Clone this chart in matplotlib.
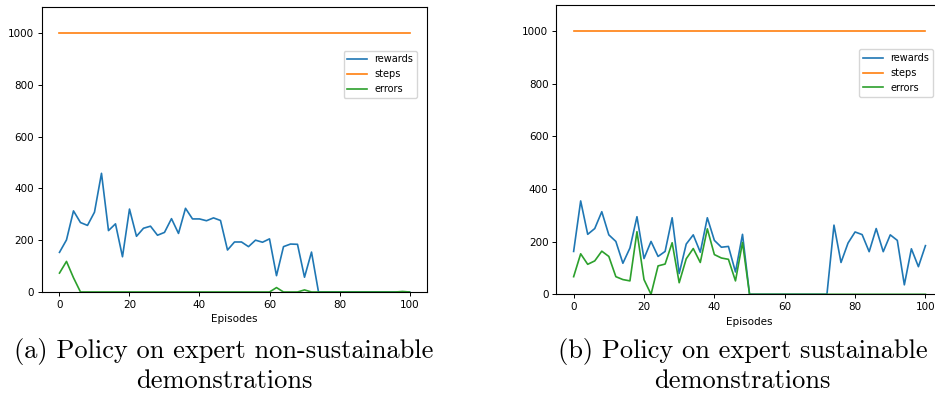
import matplotlib
matplotlib.use("Agg")
import matplotlib.pyplot as plt

episodes = list(range(0, 101, 2))

# (a) non-sustainable demonstrations
rewards_a = [153, 201, 313, 268, 257, 308, 458, 237, 263, 136, 320, 215, 246, 254, 219, 230,
             283, 226, 323, 282, 282, 275, 286, 276, 162, 193, 193, 175, 200, 192, 205, 63,
             175, 185, 184, 57, 154, 0, 0, 0, 0, 0, 0, 0, 0, 0, 0, 0, 0, 0, 0]
steps_a = [1000] * 51
errors_a = [73, 118, 55, 0, 0, 0, 0, 0, 0, 0, 0, 0, 0, 0, 0, 0,
            0, 0, 0, 0, 0, 0, 0, 0, 0, 0, 0, 0, 0, 0, 0, 17,
            0, 0, 0, 8, 0, 0, 0, 0, 0, 0, 0, 0, 0, 0, 0, 0, 0, 2, 0]

# (b) sustainable demonstrations
rewards_b = [163, 355, 228, 250, 314, 226, 201, 118, 176, 295, 136, 201, 144, 163, 291, 79,
             191, 226, 160, 291, 205, 179, 182, 85, 228, 0, 0, 0, 0, 0, 0, 0,
             0, 0, 0, 0, 0, 263, 121, 195, 237, 227, 162, 250, 162, 226, 205, 36,
             173, 105, 185]
steps_b = [1000] * 51
errors_b = [67, 154, 114, 127, 164, 144, 67, 56, 51, 238, 56, 0, 108, 115, 196, 44,
            135, 174, 121, 249, 151, 138, 133, 51, 197, 0, 0, 0, 0, 0, 0, 0,
            0, 0, 0, 0, 0, 0, 0, 0, 0, 0, 0, 0, 0, 0, 0, 0, 0, 0, 0]

captions = [
    "(a) Policy on expert non-sustainable\ndemonstrations",
    "(b) Policy on expert sustainable\ndemonstrations",
]

fig = plt.figure(figsize=(9.35, 3.99), dpi=100)
ax_a = fig.add_axes([0.0449, 0.2682, 0.4118, 0.7143])
ax_b = fig.add_axes([0.5947, 0.2624, 0.4139, 0.7251])

for ax, rewards, steps, errors in [
    (ax_a, rewards_a, steps_a, errors_a),
    (ax_b, rewards_b, steps_b, errors_b),
]:
    ax.plot(episodes, rewards, label="rewards", lw=1.2)
    ax.plot(episodes, steps, label="steps", lw=1.2)
    ax.plot(episodes, errors, label="errors", lw=1.2, color="tab:green")
    ax.set_xlim(-5, 105)
    ax.set_ylim(0, 1100)
    ax.set_xticks([0, 20, 40, 60, 80, 100])
    ax.set_yticks([0, 200, 400, 600, 800, 1000])
    ax.tick_params(labelsize=7.5, length=3, width=0.7, pad=2.5)
    for s in ax.spines.values():
        s.set_linewidth(0.8)
    ax.set_xlabel("Episodes", fontsize=7.5, labelpad=3.5)
    ax.legend(loc="upper right", bbox_to_anchor=(0.975, 0.847), borderaxespad=0, fontsize=7)

fig.text(224 / 935, 1 - 338 / 399, captions[0], ha="center", va="top",
         family="cmr10", fontsize=19, linespacing=1.25)
fig.text(742.5 / 935, 1 - 338 / 399, captions[1], ha="center", va="top",
         family="cmr10", fontsize=19, linespacing=1.25)

fig.savefig("out.png", dpi=100)
